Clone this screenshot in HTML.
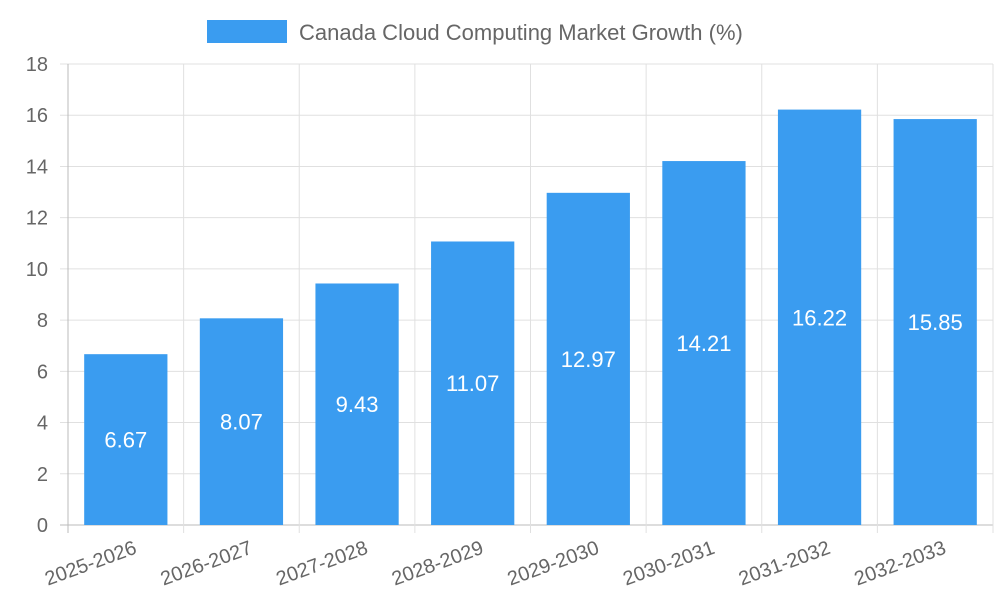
<!DOCTYPE html>
<html><head><meta charset="utf-8"><style>
body{margin:0;background:#fff;font-family:"Liberation Sans",sans-serif;}
</style></head><body>
<svg id="chart" width="1000" height="600" xmlns="http://www.w3.org/2000/svg" font-family="Liberation Sans, sans-serif"></svg>
<script>
const categories=["2025-2026","2026-2027","2027-2028","2028-2029","2029-2030","2030-2031","2031-2032","2032-2033"];
const values=[6.67,8.07,9.43,11.07,12.97,14.21,16.22,15.85];
const valueLabels=["6.67","8.07","9.43","11.07","12.97","14.21","16.22","15.85"];
const yTicks=[0,2,4,6,8,10,12,14,16,18];
const seriesName="Canada Cloud Computing Market Growth (%)";

const svg=document.getElementById('chart');
const NS="http://www.w3.org/2000/svg";
const L=68,R=993,T=64,B=525,yMax=18;
const band=(R-L)/categories.length;
const y=v=>B-(v/yMax)*(B-T);
const x=i=>L+band*i;
function mk(tag,attrs,parent){const e=document.createElementNS(NS,tag);for(const k in attrs)e.setAttribute(k,attrs[k]);(parent||svg).appendChild(e);return e;}

const grid=mk('g',{});


yTicks.forEach(t=>{
  mk('line',{x1:L-8,x2:R,y1:y(t),y2:y(t),stroke:t===0?'#bbb':'#e0e0e0','stroke-width':1},grid);
  const tx=mk('text',{x:L-20,y:y(t)+7,'text-anchor':'end','font-size':20,fill:'#666'});
  tx.textContent=t;
  
  
});
for(let i=0;i<=categories.length;i++){
  mk('line',{x1:x(i),x2:x(i),y1:T,y2:B+8,stroke:i===0?'#bbb':'#e0e0e0','stroke-width':1},grid);
}
categories.forEach((c,i)=>{
  const cx=x(i)+band/2;
  const bw=band*0.72;
  const r=mk('rect',{x:cx-bw/2,y:y(values[i]),width:bw,height:B-y(values[i]),fill:'#3a9cf0'});
  
  
  const vl=mk('text',{x:cx,y:(y(values[i])+B)/2+8,'text-anchor':'middle','font-size':22,fill:'#fff'});
  vl.textContent=valueLabels[i];
  
  
  const xl=mk('text',{x:cx+12,y:B+28,'text-anchor':'end','font-size':20,fill:'#666',transform:`rotate(-20 ${cx+12} ${B+28})`});
  xl.textContent=c;
  
  
});
const lg=mk('g',{});


mk('rect',{x:207,y:20,width:80,height:23,fill:'#3a9cf0'},lg);
const lt=mk('text',{x:299,y:40,'font-size':22,fill:'#666'},lg);
lt.textContent=seriesName;
</script>
</body></html>
